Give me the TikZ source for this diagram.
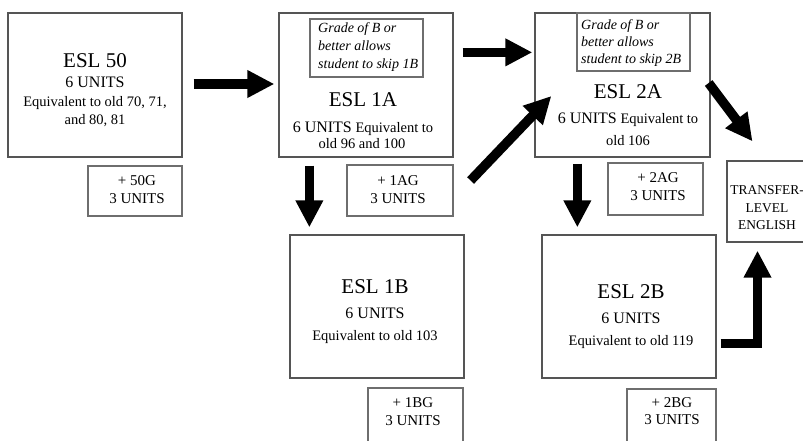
\documentclass[tikz,border=0pt]{standalone}
\usepackage{fontspec}
\setmainfont{Liberation Serif}
\usetikzlibrary{arrows.meta,calc}
\definecolor{boxgray}{HTML}{555555}
\tikzset{
  frame/.style={draw=boxgray, line width=1.3pt, inner sep=0pt},
  smallframe/.style={draw=boxgray!85, line width=1.2pt, inner sep=0pt},
  ttl/.style={anchor=base, inner sep=0pt, font=\fontsize{21}{25}\selectfont},
  unit/.style={anchor=base, inner sep=0pt, font=\fontsize{16}{19}\selectfont},
  eqv/.style={anchor=base, inner sep=0pt, font=\fontsize{14.5}{18}\selectfont},
  gtx/.style={anchor=base west, inner sep=0pt, font=\itshape\fontsize{14}{17}\selectfont},
  smalltxt/.style={anchor=base, inner sep=0pt, font=\fontsize{15}{18}\selectfont},
  trn/.style={anchor=base, inner sep=0pt, font=\fontsize{13.5}{16}\selectfont},
  bigarrow/.style={line width=9.5pt, -{Triangle[length=27pt,width=26pt]}},
}
\begin{document}
\begin{tikzpicture}[x=1pt,y=-1pt]
\useasboundingbox (0,0) rectangle (803,440);
\fill[white] (0,0) rectangle (803,440);
\clip (0,0) rectangle (803,440);

% boxes
\node[frame, minimum width=174pt, minimum height=144pt] (esl50) at (95,85) {};
\node[frame, minimum width=174pt, minimum height=144pt] (esl1a) at (366,85) {};
\node[smallframe, minimum width=113pt, minimum height=58pt] (grade1) at (366.5,48) {};
\node[frame, minimum width=175pt, minimum height=144pt] (esl2a) at (622.5,85) {};
\node[smallframe, minimum width=113pt, minimum height=58pt] (grade2) at (633.5,42) {};
\node[smallframe, minimum width=94pt, minimum height=50pt] (g50) at (135,191) {};
\node[smallframe, minimum width=106pt, minimum height=51pt] (g1a) at (400,190.5) {};
\node[smallframe, minimum width=95pt, minimum height=52pt] (g2a) at (655.5,189) {};
\node[frame, minimum width=174pt, minimum height=143pt] (esl1b) at (377,306.5) {};
\node[frame, minimum width=174pt, minimum height=143pt] (esl2b) at (629,306.5) {};
\node[smallframe, minimum width=95pt, minimum height=62pt] (g1b) at (415.5,419) {};
\node[smallframe, minimum width=89pt, minimum height=61pt] (g2b) at (671.5,419.5) {};
\node[frame, minimum width=81pt, minimum height=81pt] (transfer) at (767.5,201.5) {};

% ESL 50
\node[ttl] (t50a) at (95,67) {ESL 50};
\node[unit] (t50b) at (95,87) {6 UNITS};
\node[eqv] (t50c) at (95,106) {Equivalent to old 70, 71,};
\node[eqv] (t50d) at (95,124) {and 80, 81};

% ESL 1A
\node[gtx] (q1a) at (318,32) {Grade of B or};
\node[gtx] (q1b) at (318,50) {better allows};
\node[gtx] (q1c) at (318,68) {student to skip 1B};
\node[ttl] (t1aa) at (363,106) {ESL 1A};
\node[eqv] (t1ab) at (363,132) {{\fontsize{16}{19}\selectfont 6 UNITS} Equivalent to};
\node[eqv] (t1ac) at (362,148) {old 96 and 100};

% ESL 2A
\node[gtx] (q2a) at (581,29) {Grade of B or};
\node[gtx] (q2b) at (581,46) {better allows};
\node[gtx] (q2c) at (581,63) {student to skip 2B};
\node[ttl] (t2aa) at (628,98) {ESL 2A};
\node[eqv] (t2ab) at (628,123) {{\fontsize{16}{19}\selectfont 6 UNITS} Equivalent to};
\node[eqv] (t2ac) at (628,145) {old 106};

% ESL 1B
\node[ttl] (t1ba) at (375,293) {ESL 1B};
\node[unit] (t1bb) at (375,318) {6 UNITS};
\node[eqv] (t1bc) at (375,340) {Equivalent to old 103};

% ESL 2B
\node[ttl] (t2ba) at (631,298) {ESL 2B};
\node[unit] (t2bb) at (631,323) {6 UNITS};
\node[eqv] (t2bc) at (631,345) {Equivalent to old 119};

% small boxes
\node[smalltxt] (s50a) at (137,185) {+ 50G};
\node[smalltxt] (s50b) at (137,203) {3 UNITS};
\node[smalltxt] (s1aa) at (398,185) {+ 1AG};
\node[smalltxt] (s1ab) at (398,203) {3 UNITS};
\node[smalltxt] (s2aa) at (658,182) {+ 2AG};
\node[smalltxt] (s2ab) at (658,200) {3 UNITS};
\node[smalltxt] (s1ba) at (413,407) {+ 1BG};
\node[smalltxt] (s1bb) at (413,425) {3 UNITS};
\node[smalltxt] (s2ba) at (672,407) {+ 2BG};
\node[smalltxt] (s2bb) at (672,424) {3 UNITS};

% transfer
\node[trn] (tra) at (767,194) {TRANSFER-};
\node[trn] (trb) at (767,212) {LEVEL};
\node[trn] (trc) at (767,229) {ENGLISH};

% arrows
\draw[bigarrow] ($(esl50.east)+(11,-1)$) -- ($(esl1a.west)+(-4,-1)$);
\draw[bigarrow] ($(esl1a.north east)+(9,40)$) -- ($(esl2a.north west)+(-2,40)$);
\draw[bigarrow] ($(esl1a.south west)+(31,8)$) -- ($(esl1b.north west)+(20,-7)$);
\draw[bigarrow] ($(g1a.east)+(17,-10)$) -- ($(esl2a.west)+(17,11)$);
\draw[bigarrow] ($(esl2a.south west)+(43,6)$) -- ($(esl2b.north west)+(36,-7)$);
\draw[bigarrow] ($(esl2a.east)+(-2,-2)$) -- ($(transfer.north)+(-15,-19)$);
\draw[bigarrow, line join=miter] ($(esl2b.south east)+(4,-35)$) -| ($(transfer.south)+(-10,8)$);
\end{tikzpicture}
\end{document}
